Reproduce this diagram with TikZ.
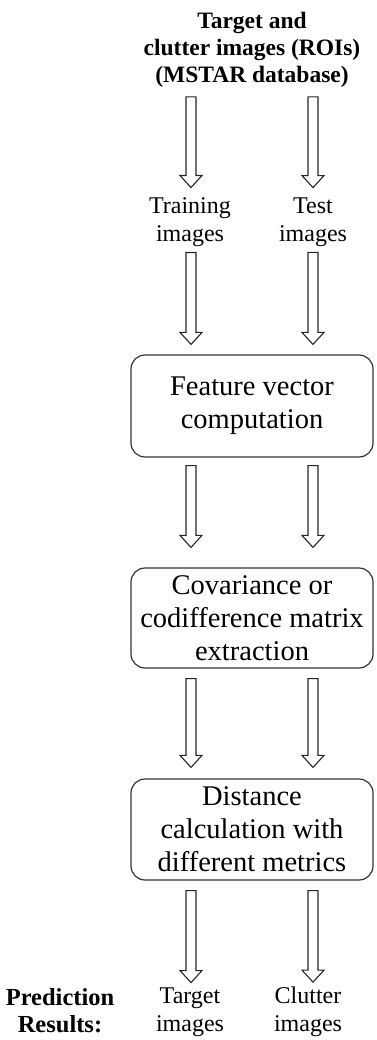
\documentclass[tikz,border=0pt]{standalone}
\usepackage{fontspec}
\setmainfont{Liberation Serif}
\usetikzlibrary{calc}

% hollow block arrow: start point, tip point, gap at start, gap at tip
\newcommand{\hollowarrow}[4]{%
	\draw[hollow] let \p1=#1, \p2=#2 in
	(\x1-5pt,\y1-#3pt) -- (\x1-5pt,\y2+#4pt+12pt) -- (\x1-11pt,\y2+#4pt+12pt)
	-- (\x1,\y2+#4pt) -- (\x1+11pt,\y2+#4pt+12pt) -- (\x1+5pt,\y2+#4pt+12pt)
	-- (\x1+5pt,\y1-#3pt) -- cycle;}

\begin{document}
\begin{tikzpicture}[x=1pt, y=-1pt,
			txt/.style={align=center, inner sep=0pt, font=\fontsize{24}{27.5}\selectfont},
			stage/.style={draw=black!80, line width=1.2pt, rounded corners=14pt, align=center,
				minimum width=242pt, font=\fontsize{28.5}{33}\selectfont},
			hollow/.style={draw=black!85, line width=1.1pt, fill=white, line join=miter} ]
			\useasboundingbox (0,0) rectangle (376,1040);
			
			\coordinate (colL) at (191,0);
			\coordinate (colR) at (313,0);
			
			%Entrada e divisao do conjunto
			\node[txt, font=\fontsize{23.5}{27}\selectfont\bfseries] (src) at (252,50)
				{Target and\\clutter images (ROIs)\\(MSTAR database)};
			\node[txt] (train) at (190,222) {Training\\images};
			\node[txt] (test)  at (313,222) {Test\\images};
			
			%Etapas
			\node[stage, minimum height=102pt] (feat) at (252,406)   {Feature vector\\computation};
			\node[stage, minimum height=100pt] (cov)  at (252,618)   {Covariance or\\codifference matrix\\extraction};
			\node[stage, minimum height=101pt] (dist) at (252,829.5) {Distance\\calculation with\\different metrics};
			
			%Resultados
			\node[txt, font=\fontsize{24.5}{27}\selectfont\bfseries] (pred) at (60,1011) {Prediction\\Results:};
			\node[txt] (tgt) at (190,1012) {Target\\images};
			\node[txt] (clt) at (308,1012) {Clutter\\images};
			
			\hollowarrow{(src.south -| colL)}{(train.north)}{9}{10}
			\hollowarrow{(src.south -| colR)}{(test.north)}{9}{10}
			\hollowarrow{(train.south -| colL)}{(feat.north)}{6}{10}
			\hollowarrow{(test.south -| colR)}{(feat.north)}{6}{10}
			\hollowarrow{(feat.south -| colL)}{(cov.north)}{8}{20}
			\hollowarrow{(feat.south -| colR)}{(cov.north)}{8}{20}
			\hollowarrow{(cov.south -| colL)}{(dist.north)}{10}{11}
			\hollowarrow{(cov.south -| colR)}{(dist.north)}{10}{11}
			\hollowarrow{(dist.south -| colL)}{(tgt.north)}{10}{5}
			\hollowarrow{(dist.south -| colR)}{(clt.north)}{10}{5}
		\end{tikzpicture}
\end{document}
